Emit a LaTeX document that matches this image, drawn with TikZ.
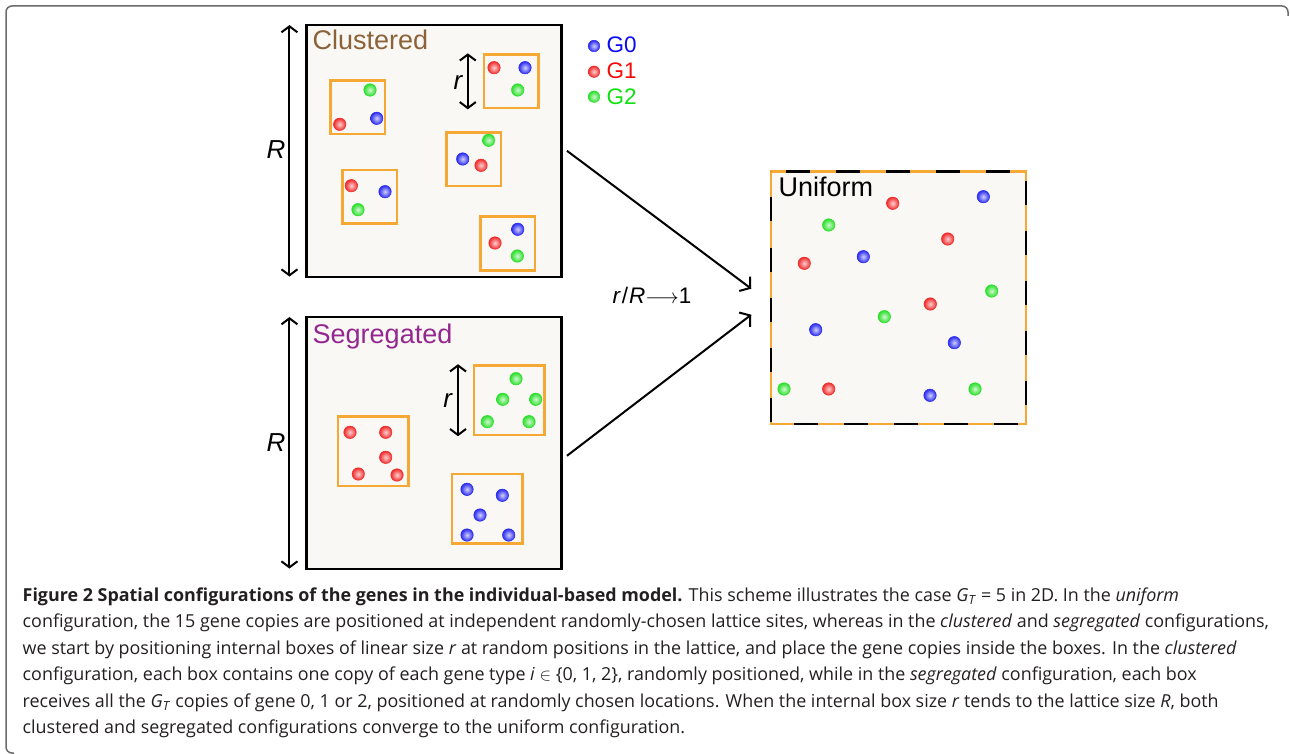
\documentclass[tikz,border=0pt]{standalone}
\usepackage{fontspec}
\setmainfont{Liberation Sans}
\newfontfamily\capfont{Open Sans}
\usetikzlibrary{arrows.meta,calc}
\definecolor{cream}{HTML}{FAF8F4}
\definecolor{orng}{HTML}{F5A833}
\definecolor{gblue}{HTML}{2A2AF0}
\definecolor{gred}{HTML}{F02A2A}
\definecolor{ggreen}{HTML}{2ADF2A}
\definecolor{lblue}{HTML}{0A0AF5}
\definecolor{lred}{HTML}{F50A0A}
\definecolor{lgreen}{HTML}{10E010}
\definecolor{clbrown}{HTML}{8C6239}
\definecolor{segpurple}{HTML}{93278F}
\definecolor{framegray}{HTML}{6A6A6A}
\definecolor{captext}{HTML}{231F20}
\tikzset{
  bigbox/.style={draw=black, line width=2.5pt, fill=cream, minimum width=255pt, minimum height=252pt, inner sep=0pt},
  cbox/.style={draw=orng, line width=2.5pt, minimum width=54.5pt, minimum height=53.5pt, inner sep=0pt},
  sbox/.style={draw=orng, line width=2.5pt, minimum width=70.5pt, minimum height=69.5pt, inner sep=0pt},
  gene/.style={circle, minimum size=12.5pt, inner sep=0pt, shade, inner color=#1!22!white, outer color=#1, draw=#1, line width=0.5pt},
  dimarrow/.style={line width=2pt, {Straight Barb[length=6pt,width=16pt]}-{Straight Barb[length=6pt,width=16pt]}},
  conn/.style={line width=2pt, -{Straight Barb[length=7pt,width=18pt]}},
  boxlabel/.style={font=\fontsize{27}{32}\selectfont, anchor=base west, inner sep=0pt},
  dimlabel/.style={font=\fontsize{26}{30}\selectfont\itshape, anchor=base, inner sep=0pt},
  leglabel/.style={font=\fontsize{22.5}{26}\selectfont, anchor=west, inner sep=0pt},
  capline/.style={font=\capfont\fontsize{17.9}{21}\selectfont, text=captext, anchor=base west, inner sep=0pt},
}
\begin{document}
\begin{tikzpicture}[x=1pt,y=-1pt]
\useasboundingbox (0,0) rectangle (1290,754);
% outer frame
\draw[framegray, line width=1.5pt, rounded corners=6pt] (14,753) -- (6,753) -- (6,6) -- (1288,6) -- (1288,16);

% big boxes
\node[bigbox] (clus) at (434.2,150.8) {};
\node[bigbox] (seg) at (434.2,442.8) {};
\node[draw=none, fill=cream, minimum width=254.7pt, minimum height=252pt, inner sep=0pt] (uni) at (898.3,297.7) {};
\draw[orng, line width=2.5pt] (uni.north west) -- (uni.north east) -- (uni.south east) -- (uni.south west) -- cycle;
\draw[black, line width=2.5pt, dash pattern=on 24pt off 26pt, dash phase=35pt] (uni.north west) -- (uni.north east) -- (uni.south east) -- (uni.south west) -- cycle;

% labels
\node[boxlabel, text=clbrown] (lclus) at (312.5,50) {Clustered};
\node[boxlabel, text=segpurple] (lseg) at (312.5,343) {Segregated};
\node[boxlabel, text=black] (luni) at (778.3,196.7) {Uniform};

% clustered small boxes
\node[cbox] (cb1) at (357.7,107.5) {};
\node[cbox] (cb2) at (511,81.3) {};
\node[cbox] (cb3) at (473.5,159.2) {};
\node[cbox] (cb4) at (369.7,197) {};
\node[cbox] (cb5) at (507.8,243.5) {};
% segregated small boxes
\node[sbox] (sbg) at (509.2,400.2) {};
\node[sbox] (sbr) at (373,451) {};
\node[sbox] (sbb) at (487,508.5) {};

% clustered genes
\foreach \x/\y [count=\i] in {376.7/118.3,525/67.7,462.7/159,385/191.7,517.7/229.3}
  \node[gene=gblue] (cgb\i) at (\x,\y) {};
\foreach \x/\y [count=\i] in {339.7/124.3,494/67.7,481/165.3,351.3/185.7,495/243}
  \node[gene=gred] (cgr\i) at (\x,\y) {};
\foreach \x/\y [count=\i] in {370/90,517.7/90,488.7/140.3,358/209.7,517.3/256}
  \node[gene=ggreen] (cgg\i) at (\x,\y) {};
% segregated genes
\foreach \x/\y [count=\i] in {516/378.7,502.7/399.3,535.7/399.3,487.3/421.7,529/421.7}
  \node[gene=ggreen] (sgg\i) at (\x,\y) {};
\foreach \x/\y [count=\i] in {350/432.3,385.7/432.3,385.7/457.3,358.3/474,397/475}
  \node[gene=gred] (sgr\i) at (\x,\y) {};
\foreach \x/\y [count=\i] in {467/489.3,502.3/495.3,480/515,467/535,508.7/535}
  \node[gene=gblue] (sgb\i) at (\x,\y) {};
% uniform genes
\foreach \x/\y [count=\i] in {892.7/203.3,947.7/239,804.3/263.3,930.3/304,828.7/389}
  \node[gene=gred] (ugr\i) at (\x,\y) {};
\foreach \x/\y [count=\i] in {983.3/196.7,863.3/256.7,815.7/329.7,954.3/342.7,930/395.3}
  \node[gene=gblue] (ugb\i) at (\x,\y) {};
\foreach \x/\y [count=\i] in {828.7/225,991.7/291,884.3/316.7,784/389,975/389}
  \node[gene=ggreen] (ugg\i) at (\x,\y) {};

% dimension arrows
\coordinate (cRt) at ($(clus.north west)+(-16,1.5)$);
\coordinate (cRb) at ($(clus.south west)+(-16,-1.5)$);
\draw[dimarrow] (cRt) -- (cRb);
\node[dimlabel] (cR) at (276,159) {R};
\coordinate (sRt) at ($(seg.north west)+(-16,1.5)$);
\coordinate (sRb) at ($(seg.south west)+(-16,-1.5)$);
\draw[dimarrow] (sRt) -- (sRb);
\node[dimlabel] (sR) at (276,451.5) {R};
\coordinate (crt) at ($(cb2.north west)+(-14.7,0)$);
\coordinate (crb) at ($(cb2.south west)+(-14.7,0)$);
\draw[dimarrow] (crt) -- (crb);
\node[dimlabel] (cr) at (458,90) {r};
\coordinate (srt) at ($(sbg.north west)+(-14.7,0)$);
\coordinate (srb) at ($(sbg.south west)+(-14.7,0)$);
\draw[dimarrow] (srt) -- (srb);
\node[dimlabel] (sr) at (447.7,407.7) {r};

% legend
\node[gene=gblue, minimum size=11.5pt] (lgb) at (594,46) {};
\node[gene=gred, minimum size=11.5pt] (lgr) at (594,71.7) {};
\node[gene=ggreen, minimum size=11.5pt] (lgg) at (594,96.7) {};
\node[leglabel, text=lblue] (tg0) at (606.5,45) {G0};
\node[leglabel, text=lred] (tg1) at (606.5,71) {G1};
\node[leglabel, text=lgreen] (tg2) at (606.5,97) {G2};

% convergence arrows
\draw[conn] ($(clus.east)+(4,0)$) -- ($(uni.west)+(-19.5,-9)$);
\draw[conn] ($(seg.east)+(4,13)$) -- ($(uni.west)+(-19.5,17)$);
\node[font=\fontsize{22.5}{27}\selectfont, anchor=base west, inner sep=0pt] (ratio) at (612.5,303.5) {\textit{r}\kern1pt/\kern1pt\textit{R}$\longrightarrow$1};

% caption
\node[capline] (cap1) at (22.5,601.5) {\textbf{Figure 2 Spatial configurations of the genes in the individual-based model.} This scheme illustrates the case \textit{G}\textsubscript{\textit{T}} = 5 in 2D. In the \textit{uniform}};
\node[capline] (cap2) at (22.5,627.9) {configuration, the 15 gene copies are positioned at independent randomly-chosen lattice sites, whereas in the \textit{clustered} and \textit{segregated} configurations,};
\node[capline] (cap3) at (22.5,654.3) {we start by positioning internal boxes of linear size \textit{r} at random positions in the lattice, and place the gene copies inside the boxes. In the \textit{clustered}};
\node[capline] (cap4) at (22.5,680.7) {configuration, each box contains one copy of each gene type \textit{i} $\in$ \{0, 1, 2\}, randomly positioned, while in the \textit{segregated} configuration, each box};
\node[capline] (cap5) at (22.5,707.1) {receives all the \textit{G}\textsubscript{\textit{T}} copies of gene 0, 1 or 2, positioned at randomly chosen locations. When the internal box size \textit{r} tends to the lattice size \textit{R}, both};
\node[capline] (cap6) at (22.5,733.5) {clustered and segregated configurations converge to the uniform configuration.};
\end{tikzpicture}
\end{document}
